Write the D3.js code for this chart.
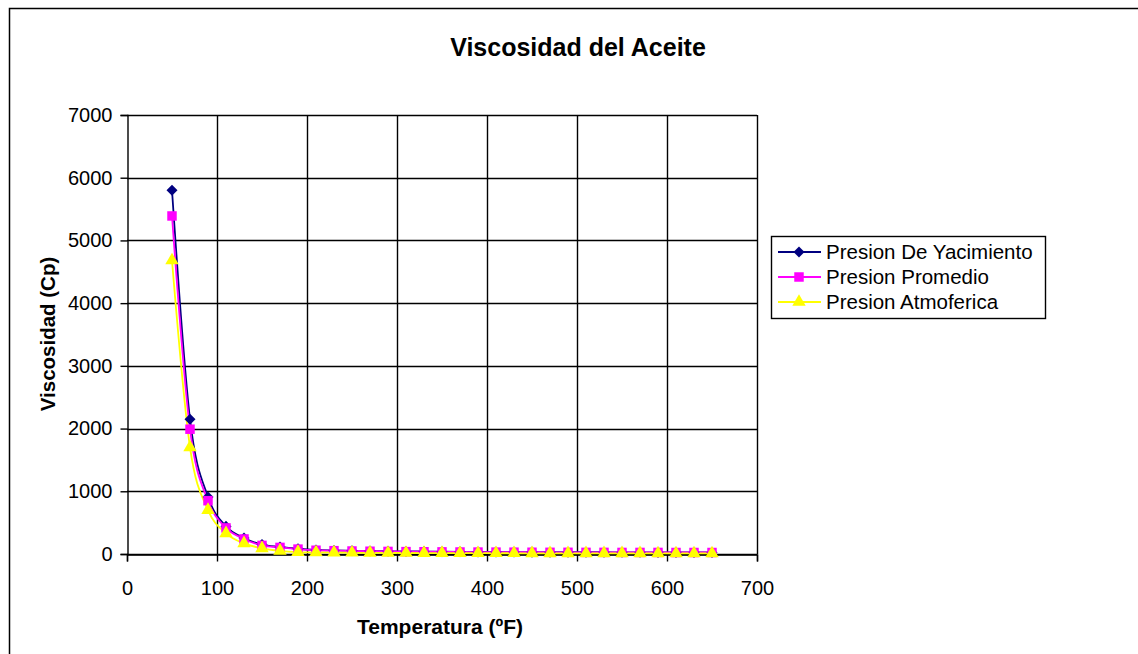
<!DOCTYPE html>
<html>
<head>
<meta charset="utf-8">
<script src="https://cdn.jsdelivr.net/npm/d3@7"></script>
<style>
  html, body { margin: 0; padding: 0; background: #fff; }
  svg { display: block; font-family: "Liberation Sans", Arial, sans-serif; }
</style>
</head>
<body>
<svg id="chart" width="1138" height="654"></svg>
<script>
// Temperatures (ºF) of each measurement
const temperatures = [50, 70, 90, 110, 130, 150, 170, 190, 210, 230, 250, 270, 290, 310, 330, 350,
  370, 390, 410, 430, 450, 470, 490, 510, 530, 550, 570, 590, 610, 630, 650];

// Oil viscosity (Cp) at each pressure
const presionYacimiento = [5800, 2150, 910, 440, 255, 150, 112, 84, 65, 57, 52, 47, 44, 41, 39, 37,
  35, 33, 32, 31, 30, 29, 29, 28, 28, 27, 27, 26, 26, 26, 25];
const presionPromedio = [5390, 1990, 850, 416, 240, 137, 105, 78, 60, 53, 48, 44, 41, 38, 36, 34,
  32, 31, 30, 29, 28, 27, 27, 26, 26, 25, 25, 25, 24, 24, 24];
const presionAtmosferica = [4680, 1700, 700, 330, 170, 90, 50, 30, 25, 22, 20, 18, 17, 16, 15, 14,
  13, 13, 12, 12, 11, 11, 11, 10, 10, 10, 10, 9, 9, 9, 9];

const xTicks = [0, 100, 200, 300, 400, 500, 600, 700];
const yTicks = [0, 1000, 2000, 3000, 4000, 5000, 6000, 7000];

const seriesNames = ["Presion De Yacimiento", "Presion Promedio", "Presion Atmoferica"];
const seriesColors = ["#000080", "#FF00FF", "#FFFF00"];
const seriesValues = [presionYacimiento, presionPromedio, presionAtmosferica];
const seriesSymbols = [d3.symbolDiamond2, d3.symbolSquare, d3.symbolTriangle];
const seriesSymbolSizes = [78, 90, 78];

const FONT = "'Liberation Sans', Arial, sans-serif";
const svg = d3.select("#chart");

// Outer chart frame
svg.append("rect")
  .attr("x", 9.5).attr("y", 8.5)
  .attr("width", 1140).attr("height", 660)
  .attr("fill", "#fff").attr("stroke", "#000").attr("stroke-width", 1.5);

const plot = { left: 127, right: 757, top: 115, bottom: 554 };

const x = d3.scaleLinear().domain([0, 700]).range([plot.left, plot.right]);
const y = d3.scaleLinear().domain([0, 7000]).range([plot.bottom, plot.top]);

// Gridlines
const grid = svg.append("g");
grid.selectAll("line.h").data(yTicks).join("line")
  .attr("x1", plot.left).attr("x2", plot.right)
  .attr("y1", d => Math.round(y(d)) + 0.5).attr("y2", d => Math.round(y(d)) + 0.5)
  .attr("stroke", "#000").attr("stroke-width", 1.4);
grid.selectAll("line.v").data(xTicks.slice(1)).join("line")
  .attr("x1", d => Math.round(x(d)) + 0.5).attr("x2", d => Math.round(x(d)) + 0.5)
  .attr("y1", plot.top).attr("y2", plot.bottom)
  .attr("stroke", "#000").attr("stroke-width", 1.4);

// Axes
const xAxis = d3.axisBottom(x).tickValues(xTicks).tickSize(7).tickPadding(19).tickFormat(d3.format("d"));
const yAxis = d3.axisLeft(y).tickValues(yTicks).tickSize(7).tickPadding(8).tickFormat(d3.format("d"));

const gx = svg.append("g").attr("transform", `translate(0,${plot.bottom + 0.5})`).call(xAxis);
const gy = svg.append("g").attr("transform", `translate(${plot.left + 0.5},0)`).call(yAxis);
[gx, gy].forEach(g => {
  g.selectAll("path.domain").attr("stroke", "#000").attr("stroke-width", 1.4);
  g.selectAll(".tick line").attr("stroke", "#000").attr("stroke-width", 1.4);
  g.selectAll(".tick text").attr("font-size", 20).attr("fill", "#000").attr("font-family", FONT);
});

// Series lines (smoothed) and markers
const line = d3.line()
  .x((d, i) => x(temperatures[i]))
  .y(d => y(d))
  .curve(d3.curveCardinal.tension(0));

seriesValues.forEach((vals, s) => {
  svg.append("path")
    .datum(vals)
    .attr("d", line)
    .attr("fill", "none")
    .attr("stroke", seriesColors[s])
    .attr("stroke-width", 1.8);
});

seriesValues.forEach((vals, s) => {
  const sym = d3.symbol().type(seriesSymbols[s]).size(seriesSymbolSizes[s]);
  svg.append("g").selectAll("path").data(vals).join("path")
    .attr("transform", (d, i) => `translate(${x(temperatures[i])},${y(d)})`)
    .attr("d", sym)
    .attr("fill", seriesColors[s]);
});

// Title and axis titles
svg.append("text")
  .attr("x", 578).attr("y", 56)
  .attr("text-anchor", "middle")
  .attr("font-family", FONT)
  .attr("font-size", 25).attr("font-weight", "bold")
  .text("Viscosidad del Aceite");

svg.append("text")
  .attr("x", 440).attr("y", 634)
  .attr("text-anchor", "middle")
  .attr("font-family", FONT)
  .attr("font-size", 21).attr("font-weight", "bold")
  .text("Temperatura (ºF)");

svg.append("text")
  .attr("transform", "translate(55,334) rotate(-90)")
  .attr("text-anchor", "middle")
  .attr("font-family", FONT)
  .attr("font-size", 20.5).attr("font-weight", "bold")
  .text("Viscosidad (Cp)");

// Legend
const legend = svg.append("g");
legend.append("rect")
  .attr("x", 771.5).attr("y", 236.5)
  .attr("width", 274).attr("height", 82)
  .attr("fill", "#fff").attr("stroke", "#000").attr("stroke-width", 1.4);

seriesNames.forEach((name, s) => {
  const cy = 252 + s * 25;
  legend.append("line")
    .attr("x1", 778).attr("x2", 821)
    .attr("y1", cy).attr("y2", cy)
    .attr("stroke", seriesColors[s]).attr("stroke-width", 1.8);
  legend.append("path")
    .attr("transform", `translate(799,${cy})`)
    .attr("d", d3.symbol().type(seriesSymbols[s]).size(seriesSymbolSizes[s])())
    .attr("fill", seriesColors[s]);
  legend.append("text")
    .attr("x", 826).attr("y", cy + 7)
    .attr("font-family", FONT)
    .attr("font-size", 20.5)
    .text(name);
});
</script>
</body>
</html>
